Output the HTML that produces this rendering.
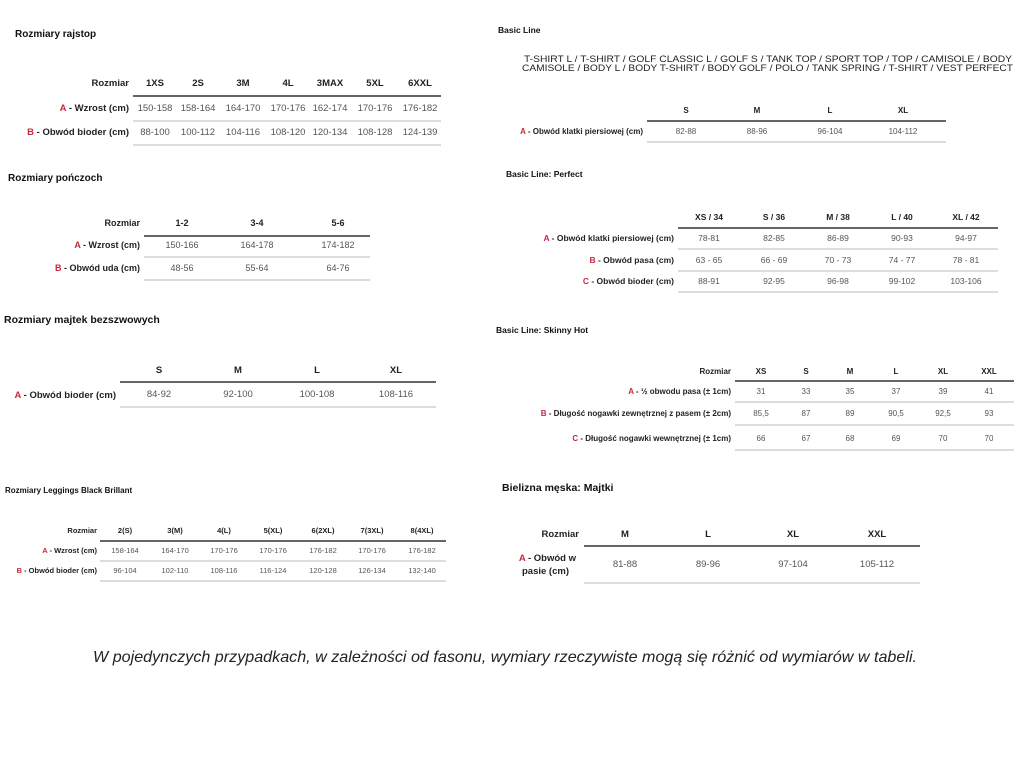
<!DOCTYPE html>
<html><head><meta charset="utf-8"><style>
html,body{margin:0;padding:0;background:#fff;}
svg{display:block}
text{font-family:"Liberation Sans",sans-serif;}
.t{font-weight:bold;fill:#111;}
.h{font-weight:bold;fill:#222;text-anchor:middle;}
.v{fill:#555;text-anchor:middle;}
.l{font-weight:bold;fill:#222;text-anchor:end;}
.r{fill:#c8283c;}
.dk{stroke:#333;stroke-width:1.6;}
.lt{stroke:#c8c8c8;stroke-width:1.2;}
</style></head><body>
<svg width="1024" height="768" viewBox="0 0 1024 768" xmlns="http://www.w3.org/2000/svg">
<!-- Table 1 -->
<text class="t" x="15" y="37" font-size="10">Rozmiary rajstop</text>
<g font-size="9.5">
<text class="l" x="129" y="86">Rozmiar</text>
<text class="h" x="155" y="86">1XS</text><text class="h" x="198" y="86">2S</text><text class="h" x="243" y="86">3M</text><text class="h" x="288" y="86">4L</text><text class="h" x="330" y="86">3MAX</text><text class="h" x="375" y="86">5XL</text><text class="h" x="420" y="86">6XXL</text>
<line class="dk" x1="133" y1="96" x2="441" y2="96"/>
<text class="l" x="129" y="111"><tspan class="r">A</tspan> - Wzrost (cm)</text>
<text class="v" x="155" y="111">150-158</text><text class="v" x="198" y="111">158-164</text><text class="v" x="243" y="111">164-170</text><text class="v" x="288" y="111">170-176</text><text class="v" x="330" y="111">162-174</text><text class="v" x="375" y="111">170-176</text><text class="v" x="420" y="111">176-182</text>
<line class="lt" x1="133" y1="121" x2="441" y2="121"/>
<text class="l" x="129" y="135"><tspan class="r">B</tspan> - Obwód bioder (cm)</text>
<text class="v" x="155" y="135">88-100</text><text class="v" x="198" y="135">100-112</text><text class="v" x="243" y="135">104-116</text><text class="v" x="288" y="135">108-120</text><text class="v" x="330" y="135">120-134</text><text class="v" x="375" y="135">108-128</text><text class="v" x="420" y="135">124-139</text>
<line class="lt" x1="133" y1="145" x2="441" y2="145"/>
</g>
<!-- Table 2 -->
<text class="t" x="8" y="181" font-size="10">Rozmiary pończoch</text>
<g font-size="9">
<text class="l" x="140" y="226">Rozmiar</text>
<text class="h" x="182" y="226">1-2</text><text class="h" x="257" y="226">3-4</text><text class="h" x="338" y="226">5-6</text>
<line class="dk" x1="144" y1="236" x2="370" y2="236"/>
<text class="l" x="140" y="248"><tspan class="r">A</tspan> - Wzrost (cm)</text>
<text class="v" x="182" y="248">150-166</text><text class="v" x="257" y="248">164-178</text><text class="v" x="338" y="248">174-182</text>
<line class="lt" x1="144" y1="257" x2="370" y2="257"/>
<text class="l" x="140" y="271"><tspan class="r">B</tspan> - Obwód uda (cm)</text>
<text class="v" x="182" y="271">48-56</text><text class="v" x="257" y="271">55-64</text><text class="v" x="338" y="271">64-76</text>
<line class="lt" x1="144" y1="280" x2="370" y2="280"/>
</g>
<!-- Table 3 -->
<text class="t" x="4" y="323" font-size="10.5">Rozmiary majtek bezszwowych</text>
<g font-size="9.5">
<text class="h" x="159" y="373">S</text><text class="h" x="238" y="373">M</text><text class="h" x="317" y="373">L</text><text class="h" x="396" y="373">XL</text>
<line class="dk" x1="120" y1="382" x2="436" y2="382"/>
<text class="l" x="116" y="398"><tspan class="r">A</tspan> - Obwód bioder (cm)</text>
<text class="v" x="159" y="397">84-92</text><text class="v" x="238" y="397">92-100</text><text class="v" x="317" y="397">100-108</text><text class="v" x="396" y="397">108-116</text>
<line class="lt" x1="120" y1="407" x2="436" y2="407"/>
</g>
<!-- Table 4 -->
<text class="t" x="5" y="493" font-size="8">Rozmiary Leggings Black Brillant</text>
<g font-size="7.5">
<text class="l" x="97" y="533">Rozmiar</text>
<text class="h" x="125" y="533">2(S)</text><text class="h" x="175" y="533">3(M)</text><text class="h" x="224" y="533">4(L)</text><text class="h" x="273" y="533">5(XL)</text><text class="h" x="323" y="533">6(2XL)</text><text class="h" x="372" y="533">7(3XL)</text><text class="h" x="422" y="533">8(4XL)</text>
<line class="dk" x1="100" y1="541" x2="446" y2="541"/>
<text class="l" x="97" y="553"><tspan class="r">A</tspan> - Wzrost (cm)</text>
<text class="v" x="125" y="553">158-164</text><text class="v" x="175" y="553">164-170</text><text class="v" x="224" y="553">170-176</text><text class="v" x="273" y="553">170-176</text><text class="v" x="323" y="553">176-182</text><text class="v" x="372" y="553">170-176</text><text class="v" x="422" y="553">176-182</text>
<line class="lt" x1="100" y1="561" x2="446" y2="561"/>
<text class="l" x="97" y="573"><tspan class="r">B</tspan> - Obwód bioder (cm)</text>
<text class="v" x="125" y="573">96-104</text><text class="v" x="175" y="573">102-110</text><text class="v" x="224" y="573">108-116</text><text class="v" x="273" y="573">116-124</text><text class="v" x="323" y="573">120-128</text><text class="v" x="372" y="573">126-134</text><text class="v" x="422" y="573">132-140</text>
<line class="lt" x1="100" y1="581" x2="446" y2="581"/>
</g>
<!-- Basic Line -->
<text class="t" x="498" y="33" font-size="8.5">Basic Line</text>
<text x="524" y="62" font-size="9.5" fill="#222" textLength="488" lengthAdjust="spacingAndGlyphs">T-SHIRT L / T-SHIRT / GOLF CLASSIC L / GOLF S / TANK TOP / SPORT TOP / TOP / CAMISOLE / BODY</text>
<text x="522" y="71" font-size="9.5" fill="#222" textLength="491" lengthAdjust="spacingAndGlyphs">CAMISOLE / BODY L / BODY T-SHIRT / BODY GOLF / POLO / TANK SPRING / T-SHIRT / VEST PERFECT</text>
<g font-size="8">
<text class="h" x="686" y="113">S</text><text class="h" x="757" y="113">M</text><text class="h" x="830" y="113">L</text><text class="h" x="903" y="113">XL</text>
<line class="dk" x1="647" y1="121" x2="946" y2="121"/>
<text class="l" x="643" y="134"><tspan class="r">A</tspan> - Obwód klatki piersiowej (cm)</text>
<text class="v" x="686" y="134">82-88</text><text class="v" x="757" y="134">88-96</text><text class="v" x="830" y="134">96-104</text><text class="v" x="903" y="134">104-112</text>
<line class="lt" x1="647" y1="142" x2="946" y2="142"/>
</g>
<!-- Perfect -->
<text class="t" x="506" y="177" font-size="8.5">Basic Line: Perfect</text>
<g font-size="8.5">
<text class="h" x="709" y="220">XS / 34</text><text class="h" x="774" y="220">S / 36</text><text class="h" x="838" y="220">M / 38</text><text class="h" x="902" y="220">L / 40</text><text class="h" x="966" y="220">XL / 42</text>
<line class="dk" x1="678" y1="228" x2="998" y2="228"/>
<text class="l" x="674" y="241"><tspan class="r">A</tspan> - Obwód klatki piersiowej (cm)</text>
<text class="v" x="709" y="241">78-81</text><text class="v" x="774" y="241">82-85</text><text class="v" x="838" y="241">86-89</text><text class="v" x="902" y="241">90-93</text><text class="v" x="966" y="241">94-97</text>
<line class="lt" x1="678" y1="249" x2="998" y2="249"/>
<text class="l" x="674" y="263"><tspan class="r">B</tspan> - Obwód pasa (cm)</text>
<text class="v" x="709" y="263">63 - 65</text><text class="v" x="774" y="263">66 - 69</text><text class="v" x="838" y="263">70 - 73</text><text class="v" x="902" y="263">74 - 77</text><text class="v" x="966" y="263">78 - 81</text>
<line class="lt" x1="678" y1="271" x2="998" y2="271"/>
<text class="l" x="674" y="284"><tspan class="r">C</tspan> - Obwód bioder (cm)</text>
<text class="v" x="709" y="284">88-91</text><text class="v" x="774" y="284">92-95</text><text class="v" x="838" y="284">96-98</text><text class="v" x="902" y="284">99-102</text><text class="v" x="966" y="284">103-106</text>
<line class="lt" x1="678" y1="292" x2="998" y2="292"/>
</g>
<!-- Skinny Hot -->
<text class="t" x="496" y="333" font-size="8.5">Basic Line: Skinny Hot</text>
<g font-size="8">
<text class="l" x="731" y="374">Rozmiar</text>
<text class="h" x="761" y="374">XS</text><text class="h" x="806" y="374">S</text><text class="h" x="850" y="374">M</text><text class="h" x="896" y="374">L</text><text class="h" x="943" y="374">XL</text><text class="h" x="989" y="374">XXL</text>
<line class="dk" x1="735" y1="381" x2="1014" y2="381"/>
<text class="l" x="731" y="394"><tspan class="r">A</tspan> - ½ obwodu pasa (± 1cm)</text>
<text class="v" x="761" y="394">31</text><text class="v" x="806" y="394">33</text><text class="v" x="850" y="394">35</text><text class="v" x="896" y="394">37</text><text class="v" x="943" y="394">39</text><text class="v" x="989" y="394">41</text>
<line class="lt" x1="735" y1="402" x2="1014" y2="402"/>
<text class="l" x="731" y="416"><tspan class="r">B</tspan> - Długość nogawki zewnętrznej z pasem (± 2cm)</text>
<text class="v" x="761" y="416">85,5</text><text class="v" x="806" y="416">87</text><text class="v" x="850" y="416">89</text><text class="v" x="896" y="416">90,5</text><text class="v" x="943" y="416">92,5</text><text class="v" x="989" y="416">93</text>
<line class="lt" x1="735" y1="425" x2="1014" y2="425"/>
<text class="l" x="731" y="441"><tspan class="r">C</tspan> - Długość nogawki wewnętrznej (± 1cm)</text>
<text class="v" x="761" y="441">66</text><text class="v" x="806" y="441">67</text><text class="v" x="850" y="441">68</text><text class="v" x="896" y="441">69</text><text class="v" x="943" y="441">70</text><text class="v" x="989" y="441">70</text>
<line class="lt" x1="735" y1="450" x2="1014" y2="450"/>
</g>
<!-- Majtki -->
<text class="t" x="502" y="491" font-size="10.5">Bielizna męska: Majtki</text>
<g font-size="9.5">
<text class="l" x="579" y="537">Rozmiar</text>
<text class="h" x="625" y="537">M</text><text class="h" x="708" y="537">L</text><text class="h" x="793" y="537">XL</text><text class="h" x="877" y="537">XXL</text>
<line class="dk" x1="584" y1="546" x2="920" y2="546"/>
<text class="l" x="576" y="561"><tspan class="r">A</tspan> - Obwód w</text>
<text class="l" x="569" y="574">pasie (cm)</text>
<text class="v" x="625" y="567">81-88</text><text class="v" x="708" y="567">89-96</text><text class="v" x="793" y="567">97-104</text><text class="v" x="877" y="567">105-112</text>
<line class="lt" x1="584" y1="583" x2="920" y2="583"/>
</g>
<!-- Footer -->
<text x="93" y="662" font-size="16" font-style="italic" fill="#222" textLength="824" lengthAdjust="spacingAndGlyphs">W pojedynczych przypadkach, w zależności od fasonu, wymiary rzeczywiste mogą się różnić od wymiarów w tabeli.</text>
</svg>
</body></html>
